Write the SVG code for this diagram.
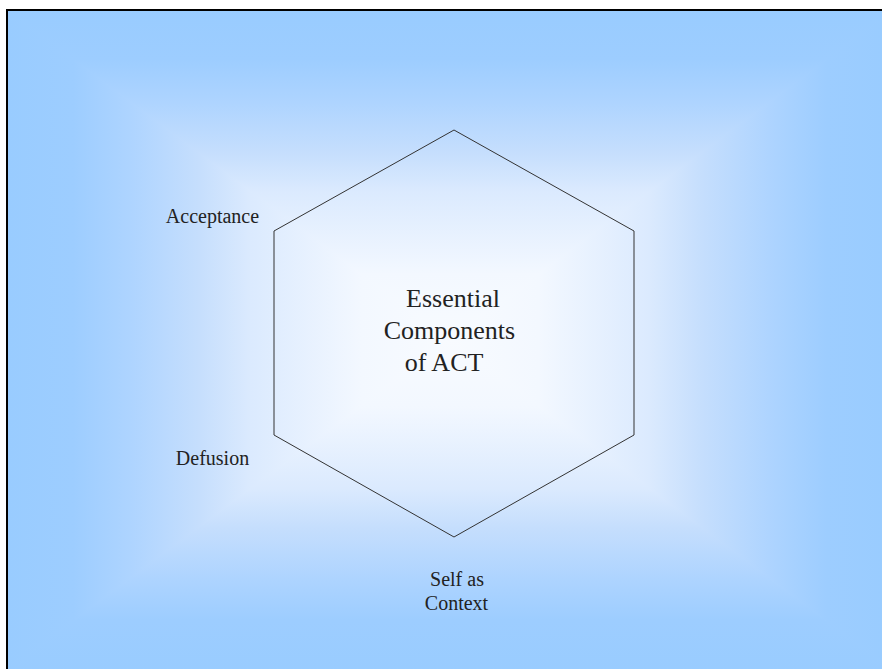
<svg xmlns="http://www.w3.org/2000/svg" width="882" height="669" viewBox="0 0 882 669">
<defs>
<linearGradient id="gT" gradientUnits="userSpaceOnUse" x1="0" y1="340" x2="0" y2="10">
<stop offset="0" stop-color="#f8fbff"/><stop offset="0.2" stop-color="#f3f8ff"/><stop offset="0.45" stop-color="#dbeafe"/><stop offset="0.57" stop-color="#c5defd"/><stop offset="0.72" stop-color="#aed4ff"/><stop offset="0.85" stop-color="#9dcdff"/><stop offset="1" stop-color="#99ccff"/>
</linearGradient>
<linearGradient id="gB" href="#gT" xlink:href="#gT" xmlns:xlink="http://www.w3.org/1999/xlink" gradientUnits="userSpaceOnUse" x1="0" y1="340" x2="0" y2="670"/>
<linearGradient id="gL" href="#gT" xlink:href="#gT" xmlns:xlink="http://www.w3.org/1999/xlink" gradientUnits="userSpaceOnUse" x1="450" y1="0" x2="7" y2="0"/>
<linearGradient id="gR" href="#gT" xlink:href="#gT" xmlns:xlink="http://www.w3.org/1999/xlink" gradientUnits="userSpaceOnUse" x1="450" y1="0" x2="893" y2="0"/>
</defs>
<style>
text{font-family:"Liberation Serif","Times New Roman",serif;fill:#222;text-anchor:middle}
.lbl{font-size:20px}
.ctr{font-size:26px}
.bg{stroke-width:1.5;stroke-linejoin:round}
</style>
<g id="background">
<rect x="0" y="0" width="882" height="669" fill="#ffffff"/>
<rect x="7" y="10" width="875" height="659" fill="#c5defd"/>
<polygon class="bg" points="450,340 7,10 893,10" fill="url(#gT)" stroke="url(#gT)"/>
<polygon class="bg" points="450,340 7,670 893,670" fill="url(#gB)" stroke="url(#gB)"/>
<polygon class="bg" points="450,340 7,10 7,670" fill="url(#gL)" stroke="url(#gL)"/>
<polygon class="bg" points="450,340 893,10 893,670" fill="url(#gR)" stroke="url(#gR)"/>
<rect x="7" y="10" width="885" height="670" fill="none" stroke="#000" stroke-width="2"/>
</g>
<g id="hexagon">
<polygon points="454,130 634,231 634,435 454,537 274,435 274,231" fill="none" stroke="#333" stroke-width="1"/>
<text class="ctr" x="453" y="307">Essential</text>
<text class="ctr" x="449.5" y="339">Components</text>
<text class="ctr" x="444" y="371">of ACT</text>
</g>
<g id="acceptance"><text class="lbl" x="212.5" y="223">Acceptance</text></g>
<g id="defusion"><text class="lbl" x="212.5" y="465">Defusion</text></g>
<g id="self-as-context"><text class="lbl" x="457" y="586">Self as</text><text class="lbl" x="456.5" y="610">Context</text></g>
<g id="connectors"/>
</svg>
